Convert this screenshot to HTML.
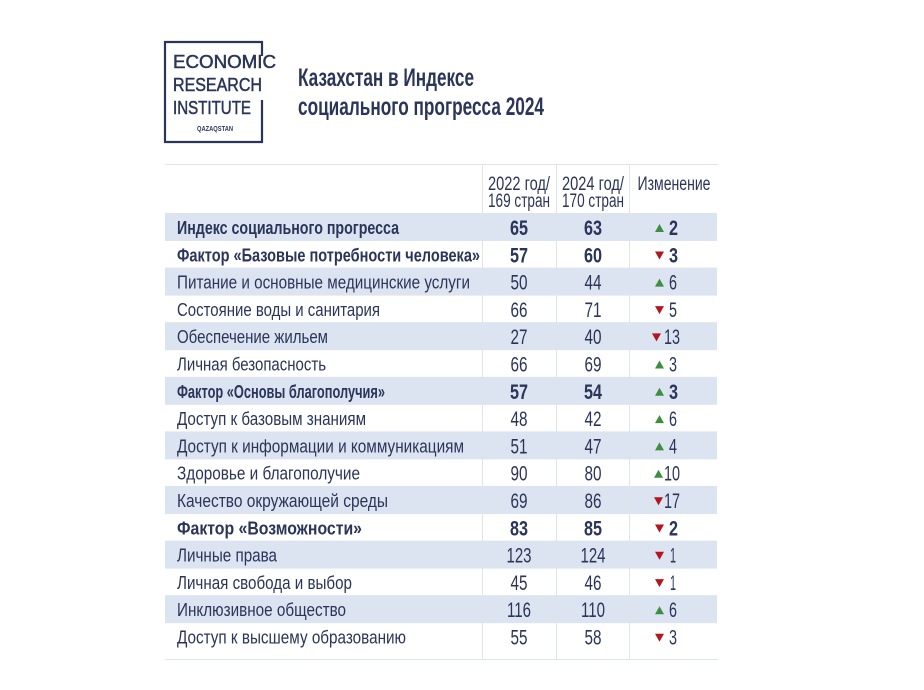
<!DOCTYPE html>
<html><head><meta charset="utf-8"><style>
html,body{margin:0;padding:0;background:#fff;width:924px;height:690px;overflow:hidden}
svg{display:block}
text{font-family:"Liberation Sans Narrow","Liberation Sans",sans-serif;fill:#2b3559}
</style></head><body>
<svg width="924" height="690" viewBox="0 0 924 690" xmlns="http://www.w3.org/2000/svg">
<g fill="none" stroke="#2b3559" stroke-width="2.2">
<path d="M262 56 V42 H165 V142 H262 V100"/>
</g>
<g style="font-family:'Liberation Sans',sans-serif" stroke="#2b3559" stroke-width="0.5">
<text x="173" y="68" font-size="18" textLength="103" lengthAdjust="spacingAndGlyphs" style="font-family:'Liberation Sans',sans-serif">ECONOMIC</text>
<text x="173" y="91" font-size="18" textLength="89" lengthAdjust="spacingAndGlyphs" style="font-family:'Liberation Sans',sans-serif">RESEARCH</text>
<text x="173" y="114" font-size="18" textLength="78" lengthAdjust="spacingAndGlyphs" style="font-family:'Liberation Sans',sans-serif">INSTITUTE</text>
<text x="197" y="131" font-size="7" stroke-width="0" font-weight="bold" textLength="36" lengthAdjust="spacingAndGlyphs" style="font-family:'Liberation Sans',sans-serif">QAZAQSTAN</text>
</g>
<text x="298" y="86" font-size="25" font-weight="bold" textLength="176" lengthAdjust="spacingAndGlyphs">Казахстан в Индексе</text>
<text x="298" y="115" font-size="25" font-weight="bold" textLength="246" lengthAdjust="spacingAndGlyphs">социального прогресса 2024</text>

<g fill="#dce3f1">
<rect x="165" y="213" width="552" height="28"/>
<rect x="165" y="267.6" width="552" height="28"/>
<rect x="165" y="322.2" width="552" height="28"/>
<rect x="165" y="376.8" width="552" height="28"/>
<rect x="165" y="431.4" width="552" height="28"/>
<rect x="165" y="486" width="552" height="28"/>
<rect x="165" y="540.6" width="552" height="28"/>
<rect x="165" y="595.2" width="552" height="28"/>
</g>
<g stroke="#dfe3ec" stroke-width="1">
<line x1="165" y1="164.5" x2="718" y2="164.5"/>
<line x1="165" y1="659.5" x2="718" y2="659.5"/>
<line x1="482.5" y1="164" x2="482.5" y2="659"/>
<line x1="556.5" y1="164" x2="556.5" y2="659"/>
<line x1="629.5" y1="164" x2="629.5" y2="659"/>
</g>
<g font-size="19" text-anchor="middle">
<text x="519" y="190" textLength="62" lengthAdjust="spacingAndGlyphs">2022 год/</text>
<text x="519" y="207" textLength="62" lengthAdjust="spacingAndGlyphs">169 стран</text>
<text x="593" y="190" textLength="62" lengthAdjust="spacingAndGlyphs">2024 год/</text>
<text x="593" y="207" textLength="62" lengthAdjust="spacingAndGlyphs">170 стран</text>
<text x="674" y="190" textLength="73" lengthAdjust="spacingAndGlyphs">Изменение</text>
</g>
<g font-size="18">
<text x="177" y="234" font-weight="bold" textLength="222" lengthAdjust="spacingAndGlyphs">Индекс социального прогресса</text>
<text x="177" y="261.3" font-weight="bold" textLength="303" lengthAdjust="spacingAndGlyphs">Фактор «Базовые потребности человека»</text>
<text x="177" y="288.6" textLength="293" lengthAdjust="spacingAndGlyphs">Питание и основные медицинские услуги</text>
<text x="177" y="315.9" textLength="203" lengthAdjust="spacingAndGlyphs">Состояние воды и санитария</text>
<text x="177" y="343.2" textLength="151" lengthAdjust="spacingAndGlyphs">Обеспечение жильем</text>
<text x="177" y="370.5" textLength="149" lengthAdjust="spacingAndGlyphs">Личная безопасность</text>
<text x="177" y="397.8" font-weight="bold" textLength="208" lengthAdjust="spacingAndGlyphs">Фактор «Основы благополучия»</text>
<text x="177" y="425.1" textLength="189" lengthAdjust="spacingAndGlyphs">Доступ к базовым знаниям</text>
<text x="177" y="452.4" textLength="287" lengthAdjust="spacingAndGlyphs">Доступ к информации и коммуникациям</text>
<text x="177" y="479.7" textLength="183" lengthAdjust="spacingAndGlyphs">Здоровье и благополучие</text>
<text x="177" y="507" textLength="211" lengthAdjust="spacingAndGlyphs">Качество окружающей среды</text>
<text x="177" y="534.3" font-weight="bold" textLength="185" lengthAdjust="spacingAndGlyphs">Фактор «Возможности»</text>
<text x="177" y="561.6" textLength="100" lengthAdjust="spacingAndGlyphs">Личные права</text>
<text x="177" y="588.9" textLength="175" lengthAdjust="spacingAndGlyphs">Личная свобода и выбор</text>
<text x="177" y="616.2" textLength="169" lengthAdjust="spacingAndGlyphs">Инклюзивное общество</text>
<text x="177" y="643.5" textLength="229" lengthAdjust="spacingAndGlyphs">Доступ к высшему образованию</text>
</g>
<g font-size="21" text-anchor="middle" lengthAdjust="spacingAndGlyphs">
<g font-weight="bold"><text x="519" y="235" textLength="18" lengthAdjust="spacingAndGlyphs">65</text><text x="593" y="235" textLength="18" lengthAdjust="spacingAndGlyphs">63</text>
<text x="519" y="262.3" textLength="18" lengthAdjust="spacingAndGlyphs">57</text><text x="593" y="262.3" textLength="18" lengthAdjust="spacingAndGlyphs">60</text></g>
<text x="519" y="289.6" textLength="17" lengthAdjust="spacingAndGlyphs">50</text><text x="593" y="289.6" textLength="17" lengthAdjust="spacingAndGlyphs">44</text>
<text x="519" y="316.9" textLength="17" lengthAdjust="spacingAndGlyphs">66</text><text x="593" y="316.9" textLength="17" lengthAdjust="spacingAndGlyphs">71</text>
<text x="519" y="344.2" textLength="17" lengthAdjust="spacingAndGlyphs">27</text><text x="593" y="344.2" textLength="17" lengthAdjust="spacingAndGlyphs">40</text>
<text x="519" y="371.5" textLength="17" lengthAdjust="spacingAndGlyphs">66</text><text x="593" y="371.5" textLength="17" lengthAdjust="spacingAndGlyphs">69</text>
<g font-weight="bold"><text x="519" y="398.8" textLength="18" lengthAdjust="spacingAndGlyphs">57</text><text x="593" y="398.8" textLength="18" lengthAdjust="spacingAndGlyphs">54</text></g>
<text x="519" y="426.1" textLength="17" lengthAdjust="spacingAndGlyphs">48</text><text x="593" y="426.1" textLength="17" lengthAdjust="spacingAndGlyphs">42</text>
<text x="519" y="453.4" textLength="17" lengthAdjust="spacingAndGlyphs">51</text><text x="593" y="453.4" textLength="17" lengthAdjust="spacingAndGlyphs">47</text>
<text x="519" y="480.7" textLength="17" lengthAdjust="spacingAndGlyphs">90</text><text x="593" y="480.7" textLength="17" lengthAdjust="spacingAndGlyphs">80</text>
<text x="519" y="508" textLength="17" lengthAdjust="spacingAndGlyphs">69</text><text x="593" y="508" textLength="17" lengthAdjust="spacingAndGlyphs">86</text>
<g font-weight="bold"><text x="519" y="535.3" textLength="18" lengthAdjust="spacingAndGlyphs">83</text><text x="593" y="535.3" textLength="18" lengthAdjust="spacingAndGlyphs">85</text></g>
<text x="519" y="562.6" textLength="25" lengthAdjust="spacingAndGlyphs">123</text><text x="593" y="562.6" textLength="25" lengthAdjust="spacingAndGlyphs">124</text>
<text x="519" y="589.9" textLength="17" lengthAdjust="spacingAndGlyphs">45</text><text x="593" y="589.9" textLength="17" lengthAdjust="spacingAndGlyphs">46</text>
<text x="519" y="617.2" textLength="24" lengthAdjust="spacingAndGlyphs">116</text><text x="593" y="617.2" textLength="24" lengthAdjust="spacingAndGlyphs">110</text>
<text x="519" y="644.5" textLength="17" lengthAdjust="spacingAndGlyphs">55</text><text x="593" y="644.5" textLength="17" lengthAdjust="spacingAndGlyphs">58</text>
</g>
<g font-size="21">
<text x="669" y="235" font-weight="bold" textLength="9" lengthAdjust="spacingAndGlyphs">2</text>
<text x="669" y="262.3" font-weight="bold" textLength="9" lengthAdjust="spacingAndGlyphs">3</text>
<text x="669" y="289.6" textLength="8" lengthAdjust="spacingAndGlyphs">6</text>
<text x="669" y="316.9" textLength="8" lengthAdjust="spacingAndGlyphs">5</text>
<text x="664" y="344.2" textLength="16" lengthAdjust="spacingAndGlyphs">13</text>
<text x="669" y="371.5" textLength="8" lengthAdjust="spacingAndGlyphs">3</text>
<text x="669" y="398.8" font-weight="bold" textLength="9" lengthAdjust="spacingAndGlyphs">3</text>
<text x="669" y="426.1" textLength="8" lengthAdjust="spacingAndGlyphs">6</text>
<text x="669" y="453.4" textLength="8" lengthAdjust="spacingAndGlyphs">4</text>
<text x="664" y="480.7" textLength="16" lengthAdjust="spacingAndGlyphs">10</text>
<text x="664" y="508" textLength="16" lengthAdjust="spacingAndGlyphs">17</text>
<text x="669" y="535.3" font-weight="bold" textLength="9" lengthAdjust="spacingAndGlyphs">2</text>
<text x="670" y="562.6" textLength="6" lengthAdjust="spacingAndGlyphs">1</text>
<text x="670" y="589.9" textLength="6" lengthAdjust="spacingAndGlyphs">1</text>
<text x="669" y="617.2" textLength="8" lengthAdjust="spacingAndGlyphs">6</text>
<text x="669" y="644.5" textLength="8" lengthAdjust="spacingAndGlyphs">3</text>
</g>
<g>
<path fill="#3d8f3f" d="M655 232 L664 232 L659.5 224 Z"/>
<path fill="#b3161d" d="M655 251.5 L664 251.5 L659.5 259.5 Z"/>
<path fill="#3d8f3f" d="M655 286.6 L664 286.6 L659.5 278.6 Z"/>
<path fill="#b3161d" d="M655 306.1 L664 306.1 L659.5 314.1 Z"/>
<path fill="#b3161d" d="M652 333.4 L661 333.4 L656.5 341.4 Z"/>
<path fill="#3d8f3f" d="M655 368.5 L664 368.5 L659.5 360.5 Z"/>
<path fill="#3d8f3f" d="M655 395.8 L664 395.8 L659.5 387.8 Z"/>
<path fill="#3d8f3f" d="M655 423.1 L664 423.1 L659.5 415.1 Z"/>
<path fill="#3d8f3f" d="M655 450.4 L664 450.4 L659.5 442.4 Z"/>
<path fill="#3d8f3f" d="M654 477.7 L663 477.7 L658.5 469.7 Z"/>
<path fill="#b3161d" d="M654 497.2 L663 497.2 L658.5 505.2 Z"/>
<path fill="#b3161d" d="M655 524.5 L664 524.5 L659.5 532.5 Z"/>
<path fill="#b3161d" d="M655 551.8 L664 551.8 L659.5 559.8 Z"/>
<path fill="#b3161d" d="M655 579.1 L664 579.1 L659.5 587.1 Z"/>
<path fill="#3d8f3f" d="M655 614.2 L664 614.2 L659.5 606.2 Z"/>
<path fill="#b3161d" d="M655 633.7 L664 633.7 L659.5 641.7 Z"/>
</g>
</svg>
</body></html>
